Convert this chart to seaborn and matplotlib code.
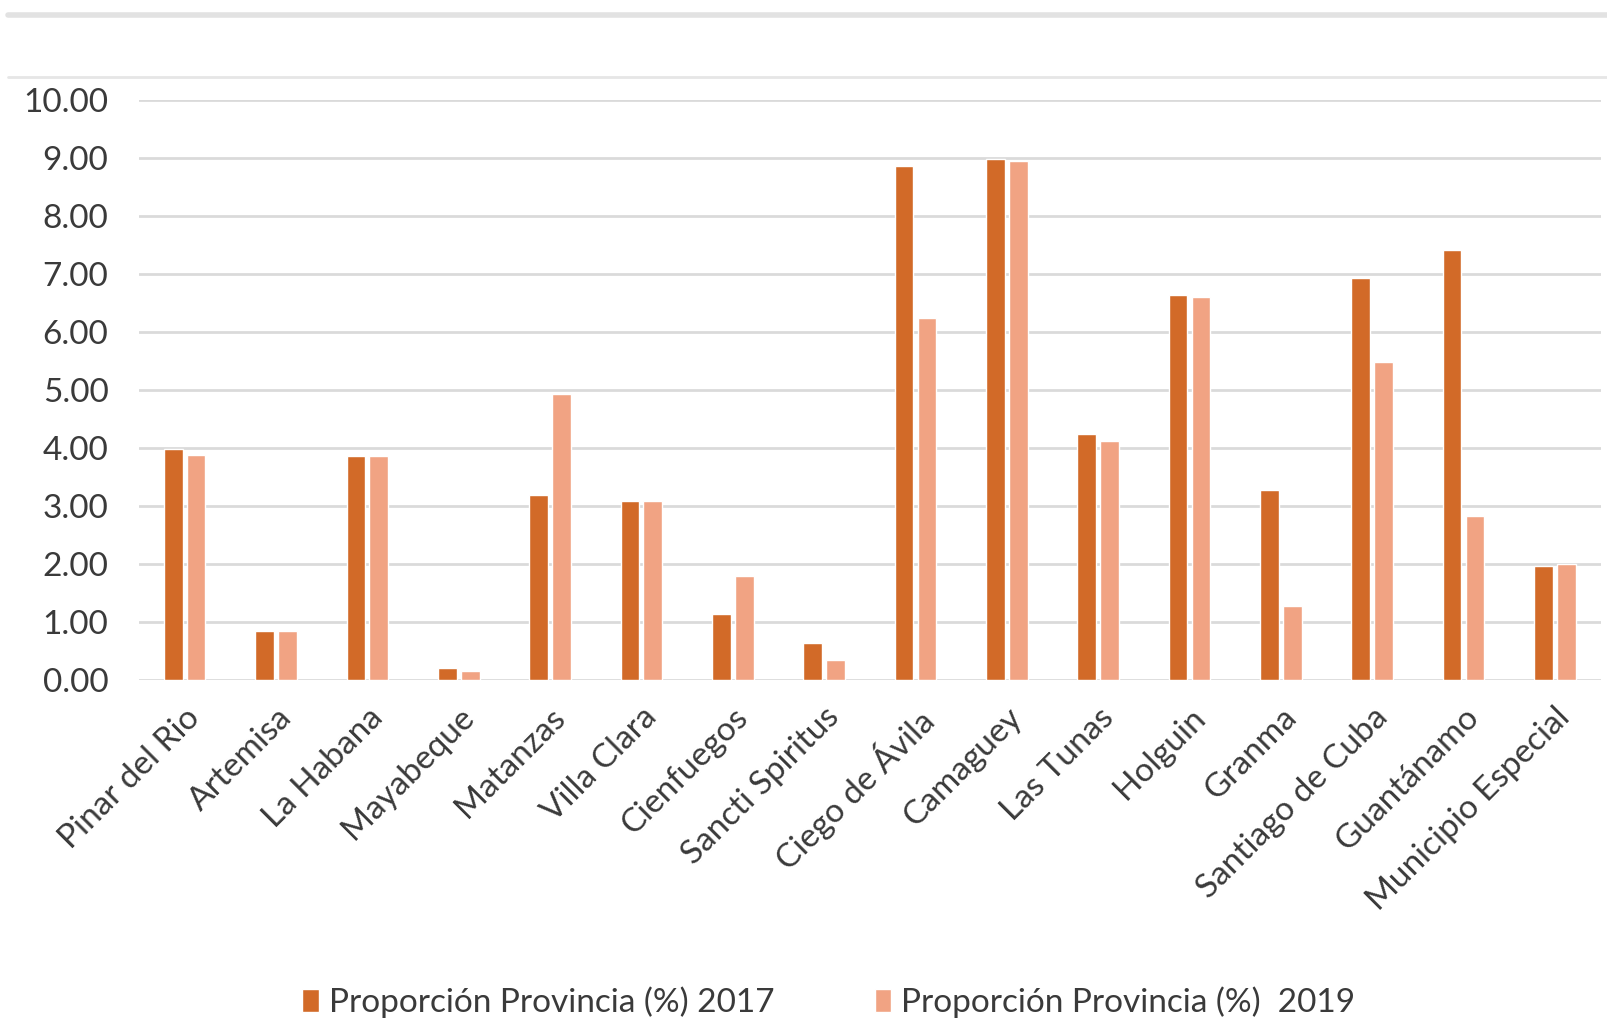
import pandas as pd
import matplotlib.pyplot as plt
import seaborn as sns
from matplotlib.lines import Line2D

provincias = ['Pinar del Rio', 'Artemisa', 'La Habana', 'Mayabeque', 'Matanzas',
              'Villa Clara', 'Cienfuegos', 'Sancti Spiritus', 'Ciego de Ávila',
              'Camaguey', 'Las Tunas', 'Holguin', 'Granma', 'Santiago de Cuba',
              'Guantánamo', 'Municipio Especial']
prop_2017 = [3.98, 0.85, 3.86, 0.21, 3.20, 3.08, 1.13, 0.64, 8.87, 8.99,
             4.25, 6.64, 3.27, 6.94, 7.42, 1.96]
prop_2019 = [3.89, 0.85, 3.86, 0.16, 4.94, 3.08, 1.79, 0.35, 6.25, 8.96,
             4.12, 6.60, 1.27, 5.49, 2.83, 2.00]
series = ['Proporción Provincia (%) 2017', 'Proporción Provincia (%)  2019']
colores = ['#D26A28', '#F1A383']

df = pd.DataFrame({
    'provincia': provincias * 2,
    'valor': prop_2017 + prop_2019,
    'serie': [series[0]] * len(provincias) + [series[1]] * len(provincias),
})

sns.set_style('white')
plt.rcParams['font.family'] = ['Lato', 'DejaVu Sans']

fig = plt.figure(figsize=(16.07, 10.25), dpi=100)
ax = fig.add_axes([0.0865, 0.3366, 0.9095, 0.5654])

sns.barplot(data=df, x='provincia', y='valor', hue='serie', palette=colores,
            width=0.5, gap=0.18, saturation=1, ax=ax)

ax.set_ylim(0, 10)
ax.set_yticks(range(0, 11))
ax.set_yticklabels([f'{v:.2f}' for v in range(0, 11)])
ax.set_xlim(-0.5, len(provincias) - 0.5)
ax.yaxis.grid(True, color='#DADADA', linewidth=2)
ax.set_axisbelow(True)
for s in ax.spines.values():
    s.set_visible(False)
ax.set_xlabel('')
ax.set_ylabel('')
ax.tick_params(axis='y', labelsize=24, labelcolor='#3A3A3A', length=0, pad=22)
ax.tick_params(axis='x', labelsize=24, labelcolor='#3A3A3A', length=0, pad=16)
plt.setp(ax.get_xticklabels(), rotation=45, ha='right', rotation_mode='anchor')

leg = ax.legend(loc='center', bbox_to_anchor=(0.472, -0.556), ncol=2,
                frameon=False, fontsize=24, handlelength=0.5, handleheight=0.7,
                handletextpad=0.3, columnspacing=3.0, labelcolor='#3A3A3A')

# bordes del recorte de la captura
fig.add_artist(Line2D([0.005, 1], [1 - 15 / 1025] * 2, color='#E2E2E2', linewidth=4))
fig.add_artist(Line2D([0.005, 1], [1 - 77 / 1025] * 2, color='#E6E6E6', linewidth=2))

fig.savefig('out.png', dpi=100)
